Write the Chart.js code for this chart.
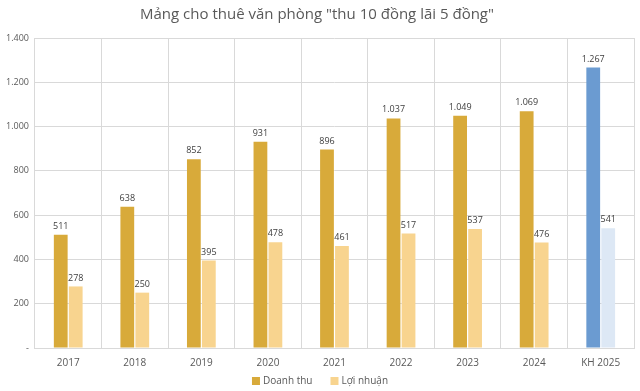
<!DOCTYPE html>
<html>
<head>
<meta charset="utf-8">
<script src="https://cdn.jsdelivr.net/npm/chart.js@4/dist/chart.umd.min.js"></script>
<style>
  html, body { margin: 0; padding: 0; background: #ffffff; }
  #wrap { width: 640px; height: 391px; position: relative; }
</style>
</head>
<body>
<div id="wrap"><canvas id="bieuDo"></canvas></div>
<script>
const nam = ['2017', '2018', '2019', '2020', '2021', '2022', '2023', '2024', 'KH 2025'];
const doanhThu = [511, 638, 852, 931, 896, 1037, 1049, 1069, 1267];
const loiNhuan = [278, 250, 395, 478, 461, 517, 537, 476, 541];

const mauDT = nam.map(n => n === 'KH 2025' ? '#6b9bd1' : '#d8aa3a');
const mauLN = nam.map(n => n === 'KH 2025' ? '#dde8f5' : '#f8d48f');

function dinhDang(v) {
    if (v === 0) return '-';
    return v.toString().replace(/\B(?=(\d{3})+(?!\d))/g, '.');
}

// ghi số lên đầu cột
const nhanCot = {
    id: 'nhanCot',
    afterDatasetsDraw(chart) {
        const ctx = chart.ctx;
        ctx.save();
        ctx.font = '9px "Open Sans", sans-serif';
        ctx.fillStyle = '#404040';
        ctx.textAlign = 'center';
        ctx.textBaseline = 'bottom';
        chart.data.datasets.forEach((ds, i) => {
            chart.getDatasetMeta(i).data.forEach((bar, j) => {
                ctx.fillText(dinhDang(ds.data[j]), bar.x, bar.y - 4);
            });
        });
        ctx.restore();
    }
};

// chú thích ở dưới, vẽ tay cho sát vị trí
const chuThich = {
    id: 'chuThich',
    afterDraw(chart) {
        const ctx = chart.ctx;
        const mau = ['#d8aa3a', '#f8d48f'];
        ctx.save();
        ctx.font = '10px "Open Sans", sans-serif';
        ctx.textBaseline = 'middle';
        ctx.textAlign = 'left';
        const hop = 8, cach = 3, giua = 18;
        const rong = chart.data.datasets.map(ds => hop + cach + ctx.measureText(ds.label).width);
        const tong = rong.reduce((a, b) => a + b, 0) + giua;
        let x = chart.width / 2 - tong / 2;
        const y = 381;
        chart.data.datasets.forEach((ds, i) => {
            ctx.fillStyle = mau[i];
            ctx.fillRect(x, y - hop / 2, hop, hop);
            ctx.fillStyle = '#595959';
            ctx.fillText(ds.label, x + hop + cach, y);
            x += rong[i] + giua;
        });
        ctx.restore();
    }
};

const config = {
    type: 'bar',
    data: {
        labels: nam,
        datasets: [{
            label: 'Doanh thu',
            data: doanhThu,
            backgroundColor: mauDT,
            borderWidth: 0,
            categoryPercentage: 0.45,
            barPercentage: 0.92
        }, {
            label: 'Lợi nhuận',
            data: loiNhuan,
            backgroundColor: mauLN,
            borderWidth: 0,
            categoryPercentage: 0.45,
            barPercentage: 0.92
        }]
    },
    options: {
        responsive: true,
        maintainAspectRatio: false,
        animation: false,
        layout: { padding: { left: 0, right: 6, top: 0, bottom: 13 } },
        plugins: {
            title: {
                display: true,
                text: 'Mảng cho thuê văn phòng "thu 10 đồng lãi 5 đồng"',
                color: '#595959',
                font: { family: '"Open Sans", sans-serif', size: 15, weight: 'normal' },
                padding: { top: 6, bottom: 14 }
            },
            legend: { display: false },
            tooltip: { enabled: false }
        },
        scales: {
            x: {
                grid: { color: '#d9d9d9', offset: true, drawTicks: false },
                border: { color: '#d9d9d9' },
                ticks: {
                    color: '#595959',
                    font: { family: '"Open Sans", sans-serif', size: 10 },
                    padding: 9
                }
            },
            y: {
                min: 0,
                max: 1400,
                grid: { color: '#d9d9d9', drawTicks: false },
                border: { display: false },
                ticks: {
                    stepSize: 200,
                    color: '#595959',
                    font: { family: '"Open Sans", sans-serif', size: 9 },
                    padding: 6,
                    callback: v => dinhDang(v)
                }
            }
        }
    },
    plugins: [nhanCot, chuThich]
};

const context = document.getElementById('bieuDo').getContext('2d');
new Chart(context, config);
</script>
</body>
</html>
